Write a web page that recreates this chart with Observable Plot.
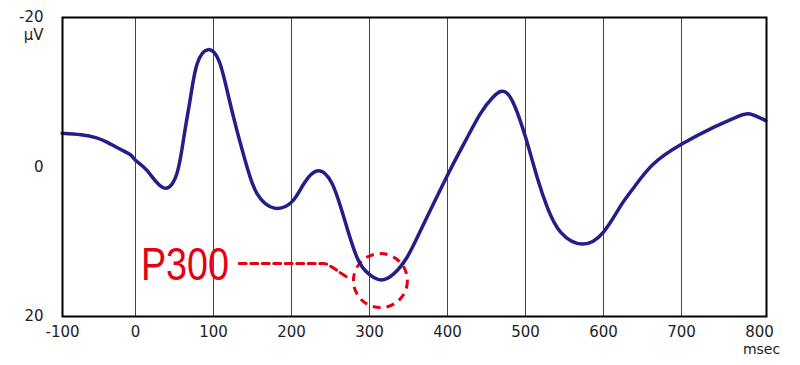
<!DOCTYPE html>
<html>
<head>
<meta charset="utf-8">
<script src="https://cdn.jsdelivr.net/npm/d3@7"></script>
<script src="https://cdn.jsdelivr.net/npm/@observablehq/plot@0.6"></script>
<style>
  html, body { margin: 0; padding: 0; background: #fff; }
  #chart svg { display: block; }
</style>
</head>
<body>
<div id="chart"></div>
<script>
// ERP waveform (time in msec, amplitude in µV; negative up)
const timeMs = [-94, -70, -50, -36, -20, -6, 0, 15, 36, 53, 62, 70.5, 79, 93, 107, 117.5, 130, 143, 156, 178, 201, 216, 234, 252, 267, 284, 299, 314, 331, 348, 365, 400, 421, 442, 458, 468, 476, 486, 500, 515, 528, 545, 573, 600, 622, 640, 664, 701, 741, 771, 788, 808];
const amplitude = [-4.5, -4.3, -3.9, -3.3, -2.4, -1.6, -0.9, 0.5, 2.8, 0.9, -4.0, -9.3, -13.8, -15.7, -14.2, -10.2, -4.9, 0, 3.6, 5.5, 4.6, 2.2, 0.5, 2.2, 6.7, 12.1, 14.3, 15.1, 14.3, 12.1, 8.6, 1.1, -3.1, -7.1, -9.3, -10.1, -9.9, -8.2, -4.0, 1.4, 5.4, 8.7, 10.3, 8.7, 5.2, 2.6, -0.4, -3.1, -5.3, -6.7, -7.1, -6.2];

// axes
const xDomain = [-93.6, 809];
const yDomain = [-20, 20];
const xTickValues = [-100, 0, 100, 200, 300, 400, 500, 600, 700, 800];
const xGridValues = [0, 100, 200, 300, 400, 500, 600, 700];
const yTickValues = [-20, 0, 20];
const xUnit = "msec";
const yUnit = "μV";

// P300 annotation
const p300Label = [{t: 7, v: 13.1, text: "P300"}];
const p300Connector = [
  {t: 133, v: 12.9}, {t: 241, v: 12.9}, {t: 252, v: 13.4}, {t: 262, v: 14.1}, {t: 272, v: 14.8}
];
const p300Circle = [{t: 314, v: 15.2}];

const wave = timeMs.map((t, i) => ({t, v: amplitude[i]}));
const clampX = d => Math.min(Math.max(d, xDomain[0]), xDomain[1]);

const red = "#e50012";
const navy = "#221f88";
const font = "DejaVu Sans, sans-serif";

const plot = Plot.plot({
  width: 800,
  height: 365,
  marginLeft: 62,
  marginRight: 34,
  marginTop: 17,
  marginBottom: 49,
  style: {fontFamily: font, background: "#fff"},
  x: {domain: xDomain, axis: null},
  y: {domain: yDomain, reverse: true, axis: null},
  marks: [
    Plot.ruleX(xGridValues, {stroke: "#444", strokeWidth: 1}),
    Plot.line(p300Connector, {x: "t", y: "v", curve: "monotone-x", stroke: red, strokeWidth: 3, strokeDasharray: "7,4.5"}),
    Plot.dot(p300Circle, {x: "t", y: "v", r: 27, stroke: red, fill: "none", strokeWidth: 3, strokeDasharray: "8,6"}),
    Plot.line(wave, {x: "t", y: "v", curve: "natural", stroke: navy, strokeWidth: 3.5}),
    Plot.text(p300Label, {x: "t", y: "v", text: "text", textAnchor: "start", fill: red, fontSize: 47, fontFamily: "Liberation Sans, sans-serif"}),
    Plot.frame({stroke: "#000", strokeWidth: 2}),
    Plot.text(xTickValues, {x: d => clampX(d), y: yDomain[1], text: d => String(d), dy: 16, fontSize: 15, fill: "#222"}),
    Plot.text(yTickValues, {x: xDomain[0], y: d => d, text: d => String(d), dx: -19, textAnchor: "end", fontSize: 15, fill: "#222"}),
    Plot.text([yUnit], {x: xDomain[0], y: yDomain[0], text: d => d, dx: -19, dy: 18, textAnchor: "end", fontSize: 15, fill: "#222"}),
    Plot.text([xUnit], {frameAnchor: "bottom-right", text: d => d, textAnchor: "middle", dx: -5, dy: 37.5, fontSize: 14, fill: "#222"})
  ]
});
// narrow the P300 label (condensed face in the original)
d3.select(plot).selectAll("text").filter(function() { return this.textContent === "P300"; })
  .attr("textLength", 88).attr("lengthAdjust", "spacingAndGlyphs");
document.getElementById("chart").appendChild(plot);
</script>
</body>
</html>
